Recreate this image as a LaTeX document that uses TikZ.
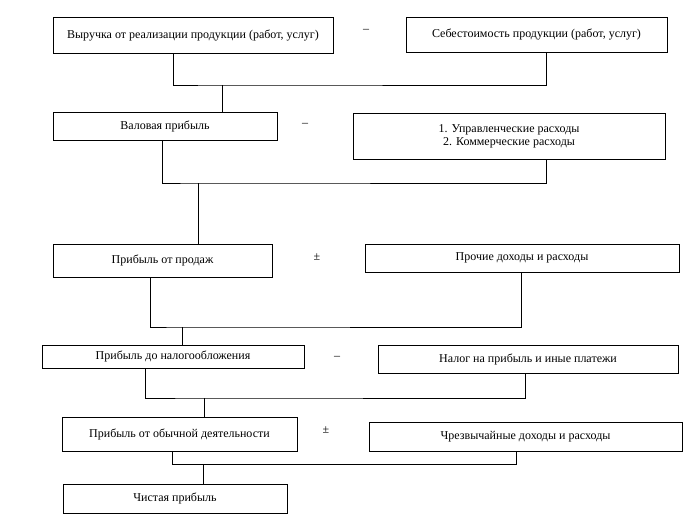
\documentclass[tikz,border=0pt]{standalone}
\usepackage{fontspec}
\setmainfont{Liberation Serif}

\begin{document}
\begin{tikzpicture}[x=1pt, y=-1pt, font=\fontsize{12}{13}\selectfont]
            % Styles
            \tikzset{
                box/.style={draw, line width=0.9pt, inner sep=0pt, align=center},
                sign/.style={inner sep=0pt},
                link/.style={line width=0.9pt}
            }
            \useasboundingbox (0,0) rectangle (690,520);

            % Boxes, top to bottom
            \node[box, minimum width=280, minimum height=36] (rev) at (193,35) {Выручка от реализации продукции (работ, услуг)};
            \node[box, minimum width=261, minimum height=35] (cost) at (536.5,34.5) {Себестоимость продукции (работ, услуг)};
            \node[box, minimum width=224, minimum height=28] (gross) at (165,126) {Валовая прибыль};
            \node[box, minimum width=312, minimum height=46] (opex) at (509,136) {1. Управленческие расходы\\2. Коммерческие расходы};
            \node[box, minimum width=219, minimum height=33] (sales) at (162.5,260.5) {Прибыль от продаж};
            \node[box, minimum width=314, minimum height=28] (other) at (522,258) {Прочие доходы и расходы};
            \node[box, minimum width=262, minimum height=23] (ebt) at (173,356.5) {Прибыль до налогообложения};
            \node[box, minimum width=300, minimum height=28] (tax) at (528,359) {Налог на прибыль и иные платежи};
            \node[box, minimum width=235, minimum height=34] (ord) at (179.5,434) {Прибыль от обычной деятельности};
            \node[box, minimum width=313, minimum height=29] (extra) at (525.5,436.5) {Чрезвычайные доходы и расходы};
            \node[box, minimum width=224, minimum height=29] (net) at (175,498.5) {Чистая прибыль};

            % Signs between the boxes
            \node[sign] (op1) at (366,31) {–};
            \node[sign] (op2) at (305,125) {–};
            \node[sign] (op3) at (317,257) {±};
            \node[sign] (op4) at (337,358) {–};
            \node[sign] (op5) at (326,430) {±};

            % Junctions
            \coordinate (j1) at (222,85);
            \coordinate (j2) at (198,183);
            \coordinate (j3) at (182,327);
            \coordinate (j4) at (204,398);
            \coordinate (j5) at (203,464);

            % Connectors
            \draw[link] ([xshift=-20]rev.south) |- (j1) -| ([xshift=9.5]cost.south);
            \draw[link] (j1) -- (j1 |- gross.north);
            \draw[link] ([xshift=-3]gross.south) |- (j2) -| ([xshift=37]opex.south);
            \draw[link] (j2) -- (j2 |- sales.north);
            \draw[link] ([xshift=-12.5]sales.south) |- (j3) -| ([xshift=-1]other.south);
            \draw[link] (j3) -- (j3 |- ebt.north);
            \draw[link] ([xshift=-28]ebt.south) |- (j4) -| ([xshift=-3]tax.south);
            \draw[link] (j4) -- (j4 |- ord.north);
            \draw[link] ([xshift=-7.5]ord.south) |- (j5) -| ([xshift=-9.5]extra.south);
            \draw[link] (j5) -- (j5 |- net.north);

        \end{tikzpicture}
\end{document}
